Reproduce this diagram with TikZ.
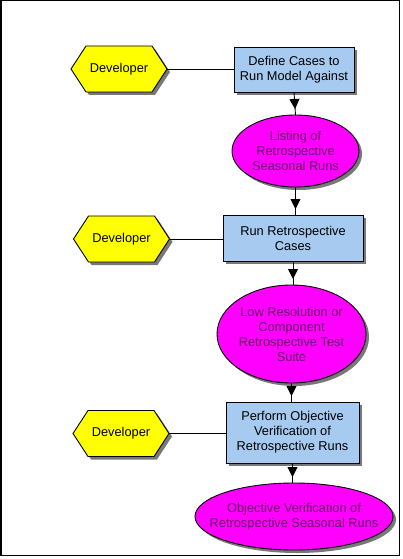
\documentclass[tikz,border=0pt]{standalone}
\usepackage{fontspec}
\setmainfont{Liberation Sans}
\usetikzlibrary{shapes.geometric,shadows,decorations.markings,arrows.meta}
\definecolor{boxblue}{RGB}{166,202,240}
\definecolor{hexyellow}{RGB}{255,255,0}
\definecolor{ellmag}{RGB}{255,0,255}
\definecolor{elltext}{RGB}{100,0,100}
\definecolor{shadowgray}{RGB}{120,120,120}
\begin{document}
\begin{tikzpicture}[x=1pt,y=-1pt,
 every node/.style={inner sep=0pt, outer sep=0pt, align=center, font=\fontsize{12.8}{15}\selectfont},
 shd/.style={drop shadow={shadow xshift=3pt, shadow yshift=-3pt, fill=shadowgray, opacity=1}},
 procbox/.style={rectangle, draw=black, line width=0.9pt, fill=boxblue, shd},
 dataell/.style={ellipse, draw=black, line width=0.9pt, fill=ellmag, text=elltext, shd},
 devlabel/.style={rectangle, minimum width=96pt, minimum height=46pt},
 hexshape/.style={draw=black, line width=0.9pt, fill=hexyellow},
 flow/.style={line width=0.9pt, postaction={decorate}, decoration={markings, mark=at position -6pt with {\arrow{Triangle[length=10pt,width=10pt]}}}},
 link/.style={line width=0.9pt}]
\useasboundingbox (0,0) rectangle (402,559);
\fill[white] (0,0) rectangle (402,559);

% hexagons
\foreach \cx/\cy in {119/69, 121.5/239, 121/433.5} {
 \fill[shadowgray, shift={(\cx+3,\cy+3)}] (-48,0) -- (-33,-23) -- (33,-23) -- (48,0) -- (33,23) -- (-33,23) -- cycle;
 \draw[hexshape, shift={(\cx,\cy)}] (-48,0) -- (-33,-23) -- (33,-23) -- (48,0) -- (33,23) -- (-33,23) -- cycle;
}
\node[devlabel] (d1) at (119,69) {Developer};
\node[devlabel] (d2) at (121.5,239) {Developer};
\node[devlabel] (d3) at (121,433.5) {Developer};

\node[procbox, minimum width=120pt, minimum height=45pt] (b1) at (294,69.5) {Define Cases to\\Run Model Against};
\node[dataell, minimum width=127pt, minimum height=72pt] (e1) at (295.5,151) {Listing of\\Retrospective\\Seasonal Runs};
\node[procbox, minimum width=140pt, minimum height=46pt] (b2) at (293,238) {Run Retrospective\\Cases};
\node[dataell, minimum width=149pt, minimum height=98pt, inner xsep=-6pt] (e2) at (291.5,334) {Low Resolution or\\Component\\Retrospective Test\\Suite};
\node[procbox, minimum width=133pt, minimum height=61pt] (b3) at (292.5,432.5) {Perform Objective\\Verification of\\Retrospective Runs};
\node[dataell, minimum width=198pt, minimum height=67pt, inner xsep=-22pt] (e3) at (294,516.5) {Objective Verification of\\Retrospective Seasonal Runs};

\draw[link] (d1.east) -- (d1.east -| b1.west);
\draw[link] (d2.east) -- (d2.east -| b2.west);
\draw[link] (d3.east) -- (d3.east -| b3.west);

\draw[flow] (b1.south) -- (e1.north);
\draw[flow] (e1.south) -- (b2.north -| e1.south);
\draw[flow] (b2.south) -- (e2.north -| b2.south);
\draw[flow] (e2.south) -- (b3.north -| e2.south);
\draw[flow] (b3.south) -- (e3.north -| b3.south);

\draw[line width=1.5pt] (0.75,0.75) rectangle (399.25,555.25);
\end{tikzpicture}
\end{document}
